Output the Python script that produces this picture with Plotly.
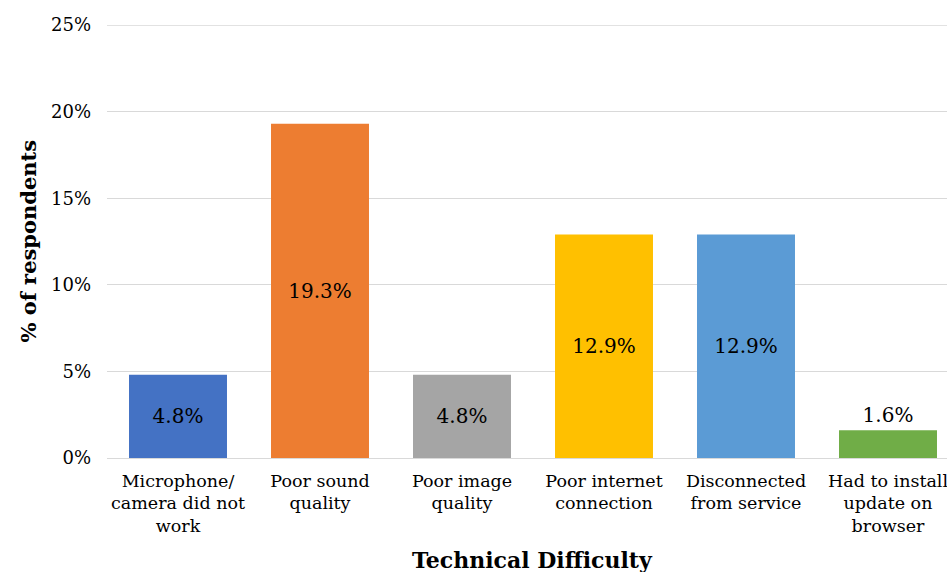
import plotly.graph_objects as go

categories = [
    "Microphone/<br>camera did not<br>work",
    "Poor sound<br>quality",
    "Poor image<br>quality",
    "Poor internet<br>connection",
    "Disconnected<br>from service",
    "Had to install<br>update on<br>browser",
]
values = [4.8, 19.3, 4.8, 12.9, 12.9, 1.6]
colors = ["#4472C4", "#ED7D31", "#A5A5A5", "#FFC000", "#5B9BD5", "#70AD47"]
label_positions = ["inside", "inside", "inside", "inside", "inside", "outside"]

FONT = "Georgia, 'DejaVu Serif', serif"
GRID = "#D9D9D9"

fig = go.Figure(
    go.Bar(
        x=list(range(len(categories))),
        y=values,
        marker=dict(color=colors, line=dict(width=0)),
        text=[f"{v:.1f}%" for v in values],
        textposition=label_positions,
        insidetextanchor="middle",
        textfont=dict(family=FONT, size=20, color="#000000"),
        outsidetextfont=dict(family=FONT, size=20, color="#000000"),
        constraintext="none",
        cliponaxis=False,
        hoverinfo="skip",
    )
)

fig.update_layout(
    width=947,
    height=572,
    margin=dict(l=107, r=0, t=25, b=114),
    paper_bgcolor="white",
    plot_bgcolor="white",
    showlegend=False,
    bargap=0.31,
    font=dict(family=FONT, color="#000000"),
    xaxis=dict(
        tickmode="array",
        tickvals=list(range(len(categories))),
        ticktext=categories,
        range=[-0.5, 5.4155],
        showgrid=False,
        zeroline=False,
        showline=False,
        ticks="",
        ticklabelstandoff=10,
        ticklabeloverflow="allow",
        tickfont=dict(family=FONT, size=17.5, color="#000000"),
    ),
    yaxis=dict(
        range=[0, 25],
        dtick=5,
        ticksuffix="%",
        showgrid=True,
        gridcolor=GRID,
        gridwidth=1.3,
        zeroline=True,
        zerolinecolor=GRID,
        zerolinewidth=1.3,
        showline=False,
        ticks="",
        ticklabelstandoff=15,
        tickfont=dict(family=FONT, size=18, color="#000000"),
    ),
    shapes=[
        # top gridline sits on the edge of the plot area
        dict(type="line", xref="paper", yref="y", x0=0, x1=1, y0=25, y1=25,
             line=dict(color=GRID, width=1.3), layer="below"),
    ],
    annotations=[
        dict(
            text="<b>% of respondents</b>",
            xref="paper", yref="paper",
            x=-0.094, y=0.5,
            xanchor="center", yanchor="middle",
            textangle=-90, showarrow=False,
            font=dict(family=FONT, size=21, color="#000000"),
        ),
        dict(
            text="<b>Technical Difficulty</b>",
            xref="paper", yref="paper",
            x=0.507, y=-0.2,
            xanchor="center", yanchor="top",
            showarrow=False,
            font=dict(family=FONT, size=22, color="#000000"),
        ),
    ],
)

fig.write_html("out.html")
